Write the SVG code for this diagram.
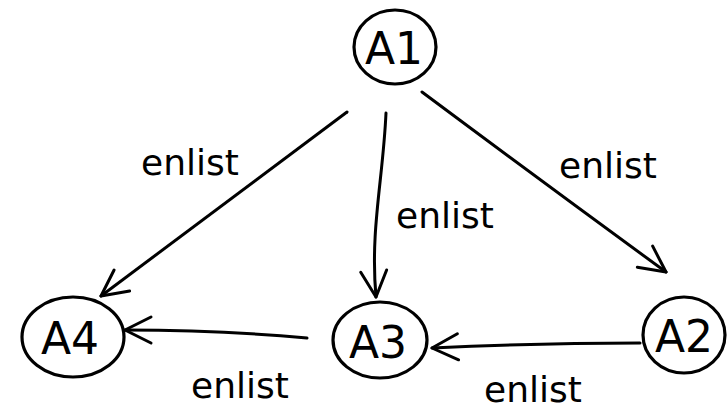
<svg xmlns="http://www.w3.org/2000/svg" width="728" height="409" viewBox="0 0 728 409">
<style>
.node{fill:none;stroke:#000;stroke-width:3.2}
.nl{font-family:"DejaVu Sans",sans-serif;font-size:44px;fill:#000;text-anchor:middle}
.el{font-family:"DejaVu Sans",sans-serif;font-size:36px;fill:#000;text-anchor:middle}
.edge{fill:none;stroke:#000;stroke-width:3;stroke-linecap:round;marker-end:url(#arr)}
</style>
<defs>
<marker id="arr" markerUnits="userSpaceOnUse" viewBox="0 0 34 34" markerWidth="34" markerHeight="34" refX="31" refY="17" orient="auto">
<path d="M5,4 L31,17 L5,30" fill="none" stroke="#000" stroke-width="3" stroke-linecap="round" stroke-linejoin="round"/>
</marker>
</defs>
<rect width="728" height="409" fill="#fff"/>
<g id="connectors">
<path class="edge" d="M347,112 Q230,200 101,296"/>
<path class="edge" d="M386,113 C383,180 370,230 376,297"/>
<path class="edge" d="M422,92 Q540,180 666,272"/>
<path class="edge" d="M640,343 Q540,343 432,348"/>
<path class="edge" d="M307,338 Q220,330 125,330"/>
<text class="el" x="190" y="175">enlist</text>
<text class="el" x="445" y="228">enlist</text>
<text class="el" x="608" y="178">enlist</text>
<text class="el" x="240" y="398">enlist</text>
<text class="el" x="533" y="402">enlist</text>
</g>
<g id="A1">
<ellipse class="node" cx="395" cy="47" rx="41" ry="37"/>
<text class="nl" x="394" y="64">A1</text>
</g>
<g id="A4">
<ellipse class="node" cx="73" cy="337" rx="51" ry="40"/>
<text class="nl" x="70" y="354">A4</text>
</g>
<g id="A3">
<ellipse class="node" cx="380" cy="340" rx="47" ry="38"/>
<text class="nl" x="378" y="358">A3</text>
</g>
<g id="A2">
<ellipse class="node" cx="684" cy="335" rx="41" ry="38"/>
<text class="nl" x="684" y="352">A2</text>
</g>
</svg>
